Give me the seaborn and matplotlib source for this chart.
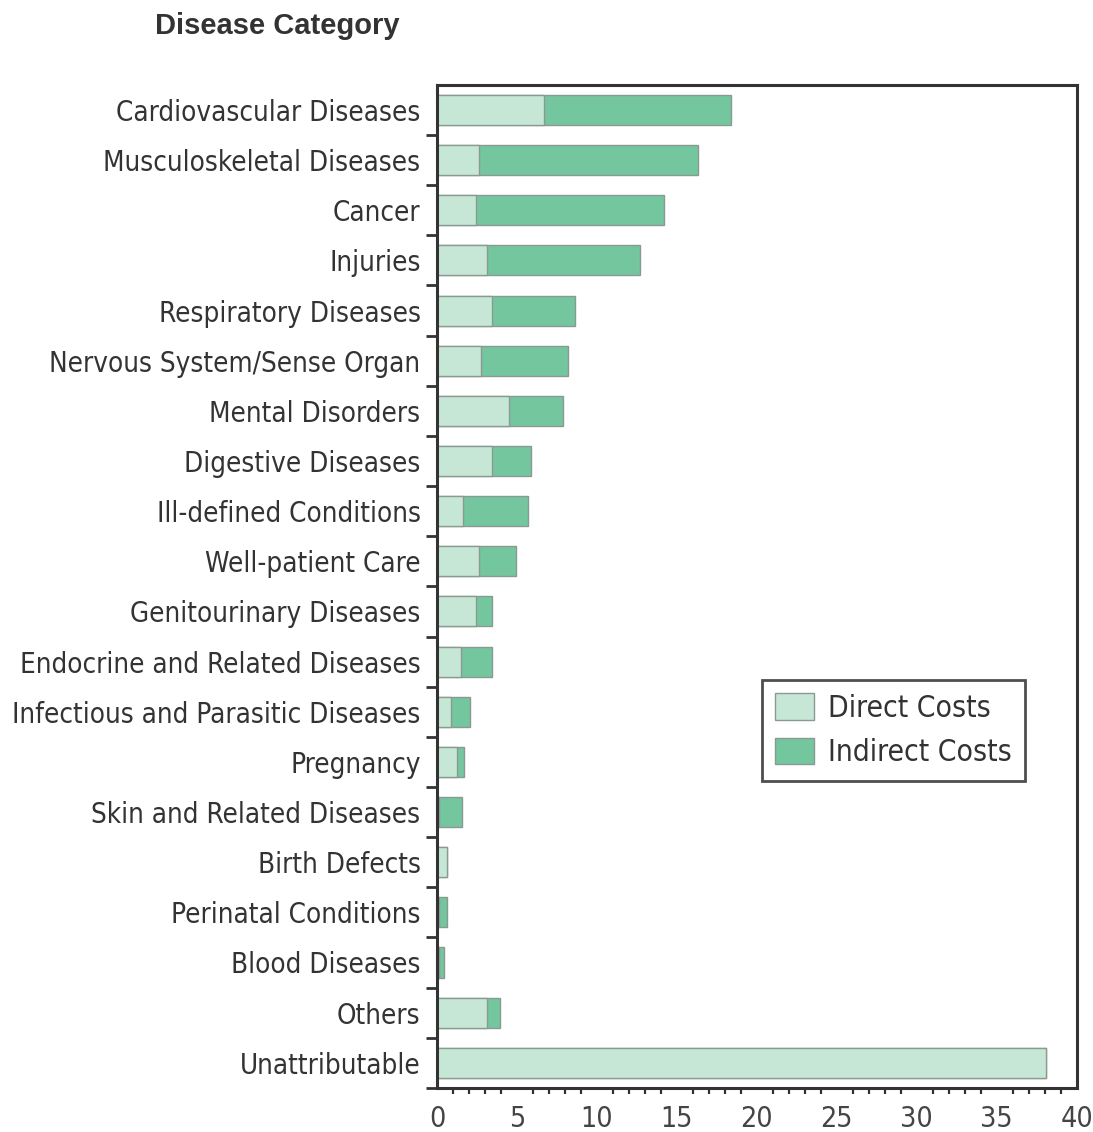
import matplotlib
matplotlib.use("Agg")
import matplotlib.pyplot as plt
from matplotlib.patches import Patch
from matplotlib.ticker import MultipleLocator, FixedLocator
import numpy as np
import pandas as pd
import seaborn as sns

categories = [
    "Cardiovascular Diseases", "Musculoskeletal Diseases", "Cancer", "Injuries",
    "Respiratory Diseases", "Nervous System/Sense Organ", "Mental Disorders",
    "Digestive Diseases", "Ill-defined Conditions", "Well-patient Care",
    "Genitourinary Diseases", "Endocrine and Related Diseases",
    "Infectious and Parasitic Diseases", "Pregnancy", "Skin and Related Diseases",
    "Birth Defects", "Perinatal Conditions", "Blood Diseases", "Others",
    "Unattributable",
]
direct_costs = [6.7, 2.6, 2.4, 3.1, 3.4, 2.75, 4.5, 3.4, 1.6, 2.6,
                2.4, 1.5, 0.85, 1.25, 0.1, 0.6, 0.1, 0.1, 3.1, 38.1]
indirect_costs = [11.7, 13.7, 11.8, 9.6, 5.2, 5.45, 3.4, 2.45, 4.1, 2.3,
                  1.05, 1.95, 1.2, 0.45, 1.45, 0.0, 0.5, 0.35, 0.8, 0.0]

df = pd.DataFrame({
    "category": categories,
    "direct": direct_costs,
    "indirect": indirect_costs,
})
df["total"] = df["direct"] + df["indirect"]

light = "#c6e6d6"
dark = "#74c69e"
edge = "#8a9a92"

sns.set_theme(style="white")
plt.rcParams["font.family"] = ["DejaVu Sans"]
plt.rcParams["font.stretch"] = "condensed"

fig = plt.figure(figsize=(10.93, 11.32), dpi=100)
ax = fig.add_axes([0.4, 0.039, 0.585, 0.886])

sns.barplot(data=df, x="total", y="category", order=categories, color=dark,
            saturation=1, width=0.6, edgecolor=edge, linewidth=1, ax=ax)
sns.barplot(data=df, x="direct", y="category", order=categories, color=light,
            saturation=1, width=0.6, edgecolor=edge, linewidth=1, ax=ax)

n = len(categories)
ax.set_xlim(0, 40)
ax.set_ylim(n - 0.5, -0.5)
ax.set_xlabel("")
ax.set_ylabel("")

for s in ax.spines.values():
    s.set_color("#333333")
    s.set_linewidth(2.2)

ax.xaxis.set_major_locator(MultipleLocator(5))
ax.xaxis.set_minor_locator(MultipleLocator(1))
ax.tick_params(axis="x", which="major", direction="out", length=7, width=2,
               color="#333333", labelsize=20.5, labelcolor="#444444", pad=5)
ax.tick_params(axis="x", which="minor", direction="out", length=4, width=1.6,
               color="#333333", bottom=True)

ax.yaxis.set_major_locator(FixedLocator(np.arange(n)))
ax.yaxis.set_minor_locator(FixedLocator(np.arange(n) + 0.5))
ax.set_yticklabels(categories)
ax.tick_params(axis="y", which="major", length=0, labelsize=19.9,
               labelcolor="#333333", pad=12)
ax.tick_params(axis="y", which="minor", direction="out", length=8, width=2,
               color="#333333", left=True)

fig.text(0.142, 0.977, "Disease Category", fontsize=21, fontweight="bold",
         color="#333333", ha="left", va="center",
         family=["Liberation Sans", "DejaVu Sans"], fontstretch="normal")

handles = [Patch(facecolor=light, edgecolor=edge, label="Direct Costs"),
           Patch(facecolor=dark, edgecolor=edge, label="Indirect Costs")]
leg = ax.legend(handles=handles, loc="upper right", bbox_to_anchor=(0.919, 0.407),
                fontsize=21.5, frameon=True, fancybox=False, edgecolor="#222222",
                handlelength=1.3, handleheight=1.0, handletextpad=0.45,
                borderpad=0.45, labelspacing=0.5, borderaxespad=0)
leg.get_frame().set_linewidth(2)
for t in leg.get_texts():
    t.set_color("#333333")

fig.savefig("out.png", dpi=100, facecolor="white")
